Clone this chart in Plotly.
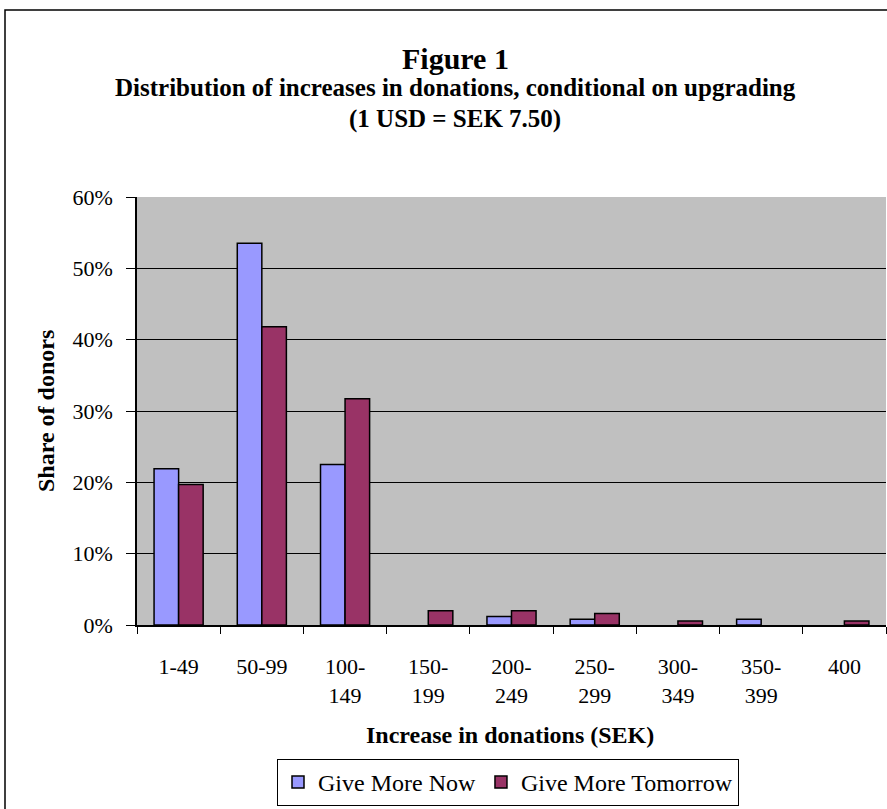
import plotly.graph_objects as go

categories = ["1-49", "50-99", "100-<br>149", "150-<br>199", "200-<br>249", "250-<br>299", "300-<br>349", "350-<br>399", "400"]
give_more_now = [21.9, 53.5, 22.5, 0.0, 1.2, 0.8, 0.0, 0.8, 0.0]
give_more_tomorrow = [19.7, 41.8, 31.7, 2.0, 2.0, 1.6, 0.55, 0.0, 0.55]
y_ticks = [0, 10, 20, 30, 40, 50, 60]
y_tick_labels = [f"{v}%" for v in y_ticks]

W, H = 887, 809
L, R, T, B = 137, 886, 197, 625
pw, ph = R - L, B - T

def px_x(p):
    return (p - L) / pw

def px_y(p):
    return (B - p) / ph

def hide_zero(vals):
    return [v if v > 0 else None for v in vals]

font_family = "Liberation Serif, Times New Roman, serif"

fig = go.Figure()
fig.add_trace(go.Bar(
    x=categories, y=hide_zero(give_more_now), name="Give More Now",
    marker=dict(color="#9999FF", line=dict(color="black", width=1.5)),
))
fig.add_trace(go.Bar(
    x=categories, y=hide_zero(give_more_tomorrow), name="Give More Tomorrow",
    marker=dict(color="#993366", line=dict(color="black", width=1.5)),
))

fig.update_layout(
    width=W, height=H,
    margin=dict(l=L, r=W - R, t=T, b=H - B, autoexpand=False),
    paper_bgcolor="white",
    plot_bgcolor="#C0C0C0",
    font=dict(family=font_family, size=22, color="black"),
    barmode="group",
    bargap=0.41,
    bargroupgap=0.0,
    showlegend=True,
    legend=dict(
        orientation="h", xanchor="center", yanchor="bottom",
        x=px_x(508), y=px_y(806),
        bordercolor="black", borderwidth=1,
        font=dict(size=24), traceorder="normal",
        itemwidth=30, tracegroupgap=0,
    ),
    xaxis=dict(
        type="category",
        showline=True, linecolor="black", linewidth=1.5,
        ticks="outside", tickson="boundaries", ticklen=7, tickcolor="black",
        showgrid=False,
        tickfont=dict(size=22),
        ticklabelstandoff=21,
        automargin=False,
    ),
    yaxis=dict(
        range=[0, 60],
        tickvals=y_ticks, ticktext=y_tick_labels,
        showline=True, linecolor="black", linewidth=1.5,
        ticks="outside", ticklen=9, tickcolor="black",
        showgrid=True, gridcolor="black", gridwidth=1,
        tickfont=dict(size=22),
        ticklabelstandoff=9,
        zeroline=False,
        automargin=False,
    ),
    annotations=[
        dict(text="<b>Figure 1</b>", x=px_x(455), y=px_y(58), xref="paper", yref="paper",
             showarrow=False, font=dict(size=30), xanchor="center", yanchor="middle"),
        dict(text="<b>Distribution of increases in donations, conditional on upgrading</b>",
             x=px_x(455), y=px_y(87), xref="paper", yref="paper",
             showarrow=False, font=dict(size=25), xanchor="center", yanchor="middle"),
        dict(text="<b>(1 USD = SEK 7.50)</b>", x=px_x(455), y=px_y(119), xref="paper", yref="paper",
             showarrow=False, font=dict(size=25), xanchor="center", yanchor="middle"),
        dict(text="<b>Increase in donations (SEK)</b>", x=px_x(510), y=px_y(735), xref="paper", yref="paper",
             showarrow=False, font=dict(size=24), xanchor="center", yanchor="middle"),
        dict(text="<b>Share of donors</b>", x=px_x(46), y=px_y(411), xref="paper", yref="paper",
             showarrow=False, font=dict(size=24), xanchor="center", yanchor="middle", textangle=-90),
    ],
    shapes=[
        dict(type="rect", xref="paper", yref="paper",
             x0=px_x(5), x1=px_x(900), y0=px_y(820), y1=px_y(10),
             line=dict(color="black", width=1.5), fillcolor="rgba(0,0,0,0)", layer="below"),
    ],
)

fig.write_html("out.html")
